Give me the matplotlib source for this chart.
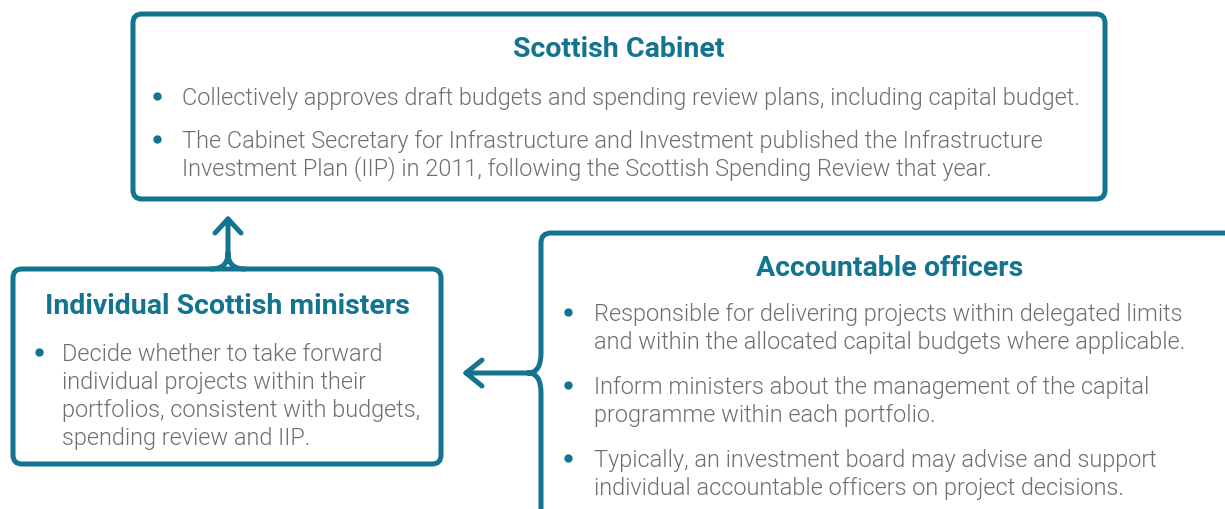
"""
Governance diagram - capital investment decisions (Scottish Cabinet / ministers / accountable officers)
"""

import matplotlib.pyplot as plt
from matplotlib.patches import FancyBboxPatch, PathPatch
from matplotlib.path import Path

TEAL = "#12748f"
GREY = "#6d6e71"
FONT = ["Roboto", "DejaVu Sans"]

# Box texts
cabinet_title = "Scottish Cabinet"
cabinet_points = [
    ["Collectively approves draft budgets and spending review plans, including capital budget."],
    ["The Cabinet Secretary for Infrastructure and Investment published the Infrastructure",
     "Investment Plan (IIP) in 2011, following the Scottish Spending Review that year."],
]

ministers_title = "Individual Scottish ministers"
ministers_points = [
    ["Decide whether to take forward",
     "individual projects within their",
     "portfolios, consistent with budgets,",
     "spending review and IIP."],
]

officers_title = "Accountable officers"
officers_points = [
    ["Responsible for delivering projects within delegated limits",
     "and within the allocated capital budgets where applicable."],
    ["Inform ministers about the management of the capital",
     "programme within each portfolio."],
    ["Typically, an investment board may advise and support",
     "individual accountable officers on project decisions."],
]


def draw_bullets(ax, points, x_dot, x_text, y0, line_h, gap, size=16.9):
    y = y0
    for lines in points:
        ax.plot(x_dot, y, "o", color=TEAL, markersize=6, markeredgewidth=0)
        for line in lines:
            ax.text(x_text, y + 1.5, line, ha="left", va="center", color=GREY,
                    fontsize=size, family=FONT, fontweight=300)
            y += line_h
        y += gap


fig = plt.figure(figsize=(12.25, 5.1), dpi=100)
ax = fig.add_axes([0, 0, 1, 1])
ax.set_xlim(0, 1225)
ax.set_ylim(510, 0)
ax.axis("off")

lw = 3.6
box_style = "round,pad=0,rounding_size=9"

# Scottish Cabinet box
ax.add_patch(FancyBboxPatch((133, 15), 972, 185, boxstyle=box_style,
                            facecolor="white", edgecolor=TEAL, linewidth=lw))
# Individual ministers box
ax.add_patch(FancyBboxPatch((13, 270), 428, 195, boxstyle=box_style,
                            facecolor="white", edgecolor=TEAL, linewidth=lw))

# Up arrow from ministers box to cabinet
up = Path([(211, 270), (228, 270), (228, 254), (245, 270), (228, 270), (228, 254),
           (228, 220), (215, 234), (228, 220), (241, 234)],
          [Path.MOVETO, Path.CURVE3, Path.CURVE3, Path.MOVETO, Path.CURVE3, Path.CURVE3,
           Path.LINETO, Path.MOVETO, Path.LINETO, Path.LINETO])
ax.add_patch(PathPatch(up, fill=False, edgecolor=TEAL, linewidth=lw,
                       capstyle="round", joinstyle="round"))

# Accountable officers box (open to the right and bottom) with brace and left arrow
brace = Path([(1240, 234), (551, 234), (541, 234), (541, 244), (541, 354),
              (541, 374), (528, 374), (541, 374), (541, 394), (541, 530),
              (528, 374), (466, 374), (482, 361), (466, 374), (482, 387)],
             [Path.MOVETO, Path.LINETO, Path.CURVE3, Path.CURVE3, Path.LINETO,
              Path.CURVE3, Path.CURVE3, Path.CURVE3, Path.CURVE3, Path.LINETO,
              Path.MOVETO, Path.LINETO, Path.MOVETO, Path.LINETO, Path.LINETO])
ax.add_patch(PathPatch(brace, fill=False, edgecolor=TEAL, linewidth=lw,
                       capstyle="round", joinstyle="round"))

# Titles
title_kw = dict(ha="center", va="center", color=TEAL, fontsize=20.5,
                fontweight="bold", family=FONT)
ax.text(619, 49.5, cabinet_title, **title_kw)
ax.text(227, 306.5, ministers_title, **title_kw)
ax.text(890, 268.5, officers_title, **title_kw)

# Bullet points
draw_bullets(ax, cabinet_points, 157, 182, 97, 27, 16)
draw_bullets(ax, ministers_points, 39, 62, 353, 28, 0)
draw_bullets(ax, officers_points, 568, 594, 313, 28, 17)

plt.savefig("out.png", dpi=100, facecolor="white")
plt.close()
